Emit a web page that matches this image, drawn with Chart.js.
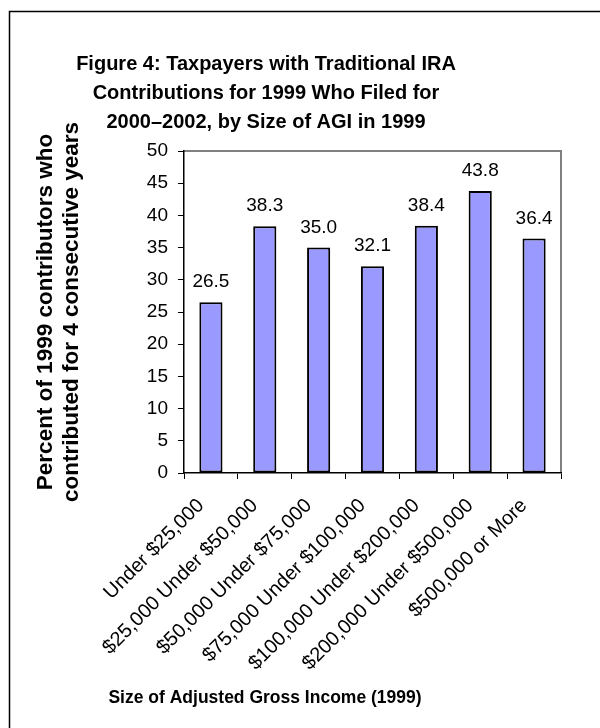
<!DOCTYPE html>
<html>
<head>
<meta charset="utf-8">
<title>Figure 4 · Traditional IRA contributors</title>
<script src="https://cdn.jsdelivr.net/npm/chart.js@4.4.1/dist/chart.umd.min.js"></script>
<style>
  html, body { margin: 0; padding: 0; background: #fff; }
  #wrap { width: 600px; height: 728px; }
</style>
</head>
<body>
<div id="wrap"><canvas id="chart" width="600" height="728"></canvas></div>
<script>
// Figure 4 — taxpayers with traditional IRA contributions, by AGI size (1999)

const categories = [
  "Under $25,000",
  "$25,000 Under $50,000",
  "$50,000 Under $75,000",
  "$75,000 Under $100,000",
  "$100,000 Under $200,000",
  "$200,000 Under $500,000",
  "$500,000 or More",
];
const percents = [26.5, 38.3, 35.0, 32.1, 38.4, 43.8, 36.4];

const titleLines = [
  "Figure 4: Taxpayers with Traditional IRA",
  "Contributions for 1999 Who Filed for",
  "2000–2002, by Size of AGI in 1999",
];
const yTitleLines = [
  "Percent of 1999 contributors who",
  "contributed for 4 consecutive years",
];
const xTitle = "Size of Adjusted Gross Income (1999)";

const Y_MIN = 0, Y_MAX = 50, Y_STEP = 5;

const FONT = "Arial, 'Liberation Sans', sans-serif";

// frame, plot border, titles and value labels
const decor = {
  id: "decor",
  beforeDraw(chart) {
    const { ctx, chartArea: a, width, height } = chart;
    ctx.save();
    ctx.fillStyle = "#fff";
    ctx.fillRect(0, 0, width, height);

    // outer frame (only top and left fall inside the picture)
    ctx.strokeStyle = "#000";
    ctx.lineWidth = 1.5;
    ctx.beginPath();
    ctx.moveTo(9.5, height);
    ctx.lineTo(9.5, 11.5);
    ctx.lineTo(width, 11.5);
    ctx.stroke();

    // grey top/right edge of plot area
    ctx.strokeStyle = "#808080";
    ctx.lineWidth = 2;
    ctx.beginPath();
    ctx.moveTo(a.left, a.top);
    ctx.lineTo(a.right, a.top);
    ctx.lineTo(a.right, a.bottom);
    ctx.stroke();

    ctx.fillStyle = "#000";
    ctx.textAlign = "center";
    ctx.textBaseline = "alphabetic";

    ctx.font = "bold 20px " + FONT;
    titleLines.forEach((t, i) => ctx.fillText(t, 266, 70 + i * 29));

    ctx.font = "bold 17.5px " + FONT;
    ctx.fillText(xTitle, 265, 703);

    ctx.font = "bold 22.5px " + FONT;
    yTitleLines.forEach((t, i) => {
      ctx.save();
      ctx.translate(52 + i * 26, 312);
      ctx.rotate(-Math.PI / 2);
      ctx.fillText(t, 0, 0);
      ctx.restore();
    });
    ctx.restore();
  },
  afterDatasetsDraw(chart) {
    const { ctx } = chart;
    const meta = chart.getDatasetMeta(0);
    ctx.save();
    ctx.fillStyle = "#000";
    ctx.font = "19px " + FONT;
    ctx.textAlign = "center";
    ctx.textBaseline = "alphabetic";
    meta.data.forEach((bar, i) => ctx.fillText(percents[i].toFixed(1), bar.x, bar.y - 15));
    ctx.restore();
  },
};

new Chart(document.getElementById("chart"), {
  type: "bar",
  data: {
    labels: categories,
    datasets: [{
      data: percents,
      backgroundColor: "#9999ff",
      borderColor: "#000",
      borderWidth: 2,
      borderSkipped: false,
      barPercentage: 0.43,
      categoryPercentage: 1,
    }],
  },
  options: {
    responsive: false,
    animation: false,
    devicePixelRatio: 1,
    layout: { padding: { left: 0, top: 151, right: 39, bottom: 0 } },
    plugins: { legend: { display: false }, tooltip: { enabled: false } },
    scales: {
      x: {
        offset: true,
        grid: { offset: true, drawOnChartArea: false, color: "#000", tickLength: 6, lineWidth: 1 },
        border: { color: "#000", width: 1.5 },
        ticks: {
          color: "#000", font: { family: FONT, size: 20 },
          minRotation: 45, maxRotation: 45, autoSkip: false, padding: 15, labelOffset: -10,
        },
        afterFit(scale) { scale.height = 255; },
      },
      y: {
        min: Y_MIN, max: Y_MAX,
        grid: { drawOnChartArea: false, color: "#000", tickLength: 6, lineWidth: 1 },
        border: { color: "#000", width: 1.5 },
        ticks: { stepSize: Y_STEP, color: "#000", font: { family: FONT, size: 19 }, padding: 10 },
        afterFit(scale) { scale.width = 184; },
      },
    },
  },
  plugins: [decor],
});
</script>
</body>
</html>
